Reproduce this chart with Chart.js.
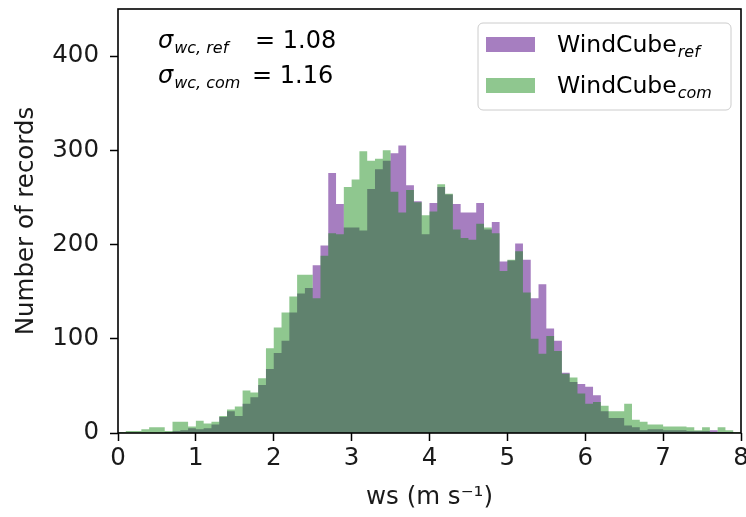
<!DOCTYPE html>
<html>
<head>
<meta charset="utf-8">
<script src="https://cdn.jsdelivr.net/npm/chart.js@4/dist/chart.umd.min.js"></script>
<style>
  html, body { margin: 0; padding: 0; background: #fff; }
  #wrap { width: 746px; height: 517px; }
</style>
</head>
<body>
<div id="wrap"><canvas id="c" width="746" height="517"></canvas></div>
<script>
// Histogram of wind speed, bins of 0.1 m/s from 0 to 8
const binWidth = 0.1;
const refCounts = [
  0, 0, 0, 0, 0, 0, 1, 2, 3, 5,
  4, 5, 9, 17, 23, 18, 31, 38, 51, 68,
  85, 98, 128, 148, 154, 178, 199, 276, 243, 218,
  218, 215, 259, 280, 289, 297, 305, 263, 246, 211,
  244, 261, 253, 243, 234, 234, 244, 216, 224, 182,
  183, 201, 184, 143, 158, 111, 98, 64, 54, 52,
  49, 40, 23, 16, 16, 8, 6, 3, 4, 4,
  3, 3, 3, 2, 2, 2, 3, 1, 1, 0
];
const comCounts = [
  1, 2, 2, 4, 6, 6, 2, 12, 12, 7,
  13, 10, 12, 18, 25, 28, 45, 43, 58, 90,
  112, 128, 145, 168, 168, 143, 188, 212, 211, 261,
  269, 299, 289, 291, 300, 256, 234, 258, 245, 231,
  235, 264, 254, 216, 207, 205, 222, 218, 212, 172,
  184, 193, 149, 100, 84, 103, 87, 63, 59, 42,
  31, 33, 29, 23, 23, 31, 14, 12, 9, 9,
  7, 7, 7, 6, 3, 6, 1, 6, 3, 1
];
const xTicks = [0, 1, 2, 3, 4, 5, 6, 7, 8];
const yTicks = [0, 100, 200, 300, 400];
const seriesLabels = ['WindCube', 'WindCube'];
const seriesSubs = ['ref', 'com'];
const sigmaSubs = ['wc, ref', 'wc, com'];
const sigmaValues = ['1.08', '1.16'];

const refColor = 'rgb(166,126,192)';
const comColor = 'rgba(17,136,17,0.47)';
const FONT = 'DejaVu Sans';

// Each bin becomes a step held from its left edge to the next edge
function stepPoints(counts) {
  const pts = counts.map((c, i) => ({ x: +(i * binWidth).toFixed(2), y: c }));
  pts.push({ x: +(counts.length * binWidth).toFixed(2), y: 0 });
  return pts;
}

// Text with a lowered, smaller italic subscript
function drawSubText(ctx, x, y, main, sub, size, mainItalic, subScale) {
  ctx.font = (mainItalic ? 'italic ' : '') + size + 'px "' + FONT + '"';
  ctx.fillText(main, x, y);
  const w = ctx.measureText(main).width;
  ctx.font = 'italic ' + Math.round(size * subScale) + 'px "' + FONT + '"';
  ctx.fillText(sub, x + w + 1, y + size * 0.22);
  return x + w + 1 + ctx.measureText(sub).width;
}

// Fixed axis box: no extra room reserved for edge tick labels
function fixBox(size, key) {
  return s => {
    s[key] = size;
    s.paddingTop = 0; s.paddingBottom = 0; s.paddingLeft = 0; s.paddingRight = 0;
  };
}

const framePlugin = {
  id: 'frame',
  afterDatasetsDraw(chart) {
    const { ctx, chartArea: a } = chart;
    ctx.save();
    ctx.strokeStyle = '#000';
    ctx.lineWidth = 1.6;
    ctx.strokeRect(a.left, a.top, a.right - a.left, a.bottom - a.top);
    ctx.restore();
  }
};

const textPlugin = {
  id: 'notes',
  afterDraw(chart) {
    const { ctx, chartArea: a } = chart;
    ctx.save();
    ctx.fillStyle = '#000';
    ctx.textBaseline = 'alphabetic';
    ctx.textAlign = 'left';

    // standard deviations
    const sx = a.left + 40;
    const lineY = [a.top + 39, a.top + 74];
    const eqX = [a.left + 137, a.left + 134];
    for (let i = 0; i < 2; i++) {
      drawSubText(ctx, sx, lineY[i], 'σ', sigmaSubs[i], 24, true, 0.66);
      ctx.font = '24px "' + FONT + '"';
      ctx.fillText('= ' + sigmaValues[i], eqX[i], lineY[i]);
    }

    // legend
    const lx = a.right - 263, ly = a.top + 14, lw = 253, lh = 87;
    ctx.beginPath();
    ctx.roundRect(lx, ly, lw, lh, 5);
    ctx.fillStyle = 'rgba(255,255,255,0.8)';
    ctx.fill();
    ctx.strokeStyle = '#cccccc';
    ctx.lineWidth = 1;
    ctx.stroke();
    const colors = [refColor, comColor];
    const rowY = [ly + 14, ly + 55];
    for (let i = 0; i < 2; i++) {
      ctx.fillStyle = colors[i];
      ctx.fillRect(lx + 8, rowY[i], 49, 15);
      ctx.fillStyle = '#000';
      drawSubText(ctx, lx + 79, rowY[i] + 15, seriesLabels[i], seriesSubs[i], 23.5, false, 0.7);
    }
    ctx.restore();
  }
};

const tickFont = { family: FONT, size: 24.5 };

new Chart(document.getElementById('c'), {
  type: 'line',
  data: {
    datasets: [
      {
        label: seriesLabels[0] + ' ' + seriesSubs[0],
        data: stepPoints(refCounts),
        stepped: 'before',
        fill: 'origin',
        backgroundColor: refColor,
        borderColor: 'transparent',
        borderWidth: 0,
        pointRadius: 0,
        order: 1
      },
      {
        label: seriesLabels[1] + ' ' + seriesSubs[1],
        data: stepPoints(comCounts),
        stepped: 'before',
        fill: 'origin',
        backgroundColor: comColor,
        borderColor: 'transparent',
        borderWidth: 0,
        pointRadius: 0,
        order: 0
      }
    ]
  },
  options: {
    responsive: false,
    animation: false,
    devicePixelRatio: 1,
    layout: { padding: { left: 0, right: 5, top: 9, bottom: 0 } },
    plugins: {
      legend: { display: false },
      tooltip: { enabled: false }
    },
    scales: {
      x: {
        type: 'linear',
        min: 0,
        max: 8,
        afterBuildTicks: s => { s.ticks = xTicks.map(v => ({ value: v })); },
        afterFit: fixBox(84, 'height'),
        grid: { drawOnChartArea: false, drawTicks: true, tickLength: 8, tickWidth: 1.5, tickColor: '#000' },
        border: { display: false },
        ticks: { color: '#1a1a1a', font: tickFont, padding: 3, maxRotation: 0, autoSkip: false },
        title: { display: true, text: 'ws (m s⁻¹)', color: '#1a1a1a', font: tickFont, padding: { top: 0, bottom: 5 } }
      },
      y: {
        type: 'linear',
        min: 0,
        max: 450,
        afterBuildTicks: s => { s.ticks = yTicks.map(v => ({ value: v })); },
        afterFit: fixBox(118, 'width'),
        grid: { drawOnChartArea: false, drawTicks: true, tickLength: 8, tickWidth: 1.5, tickColor: '#000' },
        border: { display: false },
        ticks: { color: '#1a1a1a', font: tickFont, padding: 11 },
        title: { display: true, text: 'Number of records', color: '#1a1a1a', font: tickFont, padding: { top: 12, bottom: 0 } }
      }
    }
  },
  plugins: [framePlugin, textPlugin]
});
</script>
</body>
</html>
